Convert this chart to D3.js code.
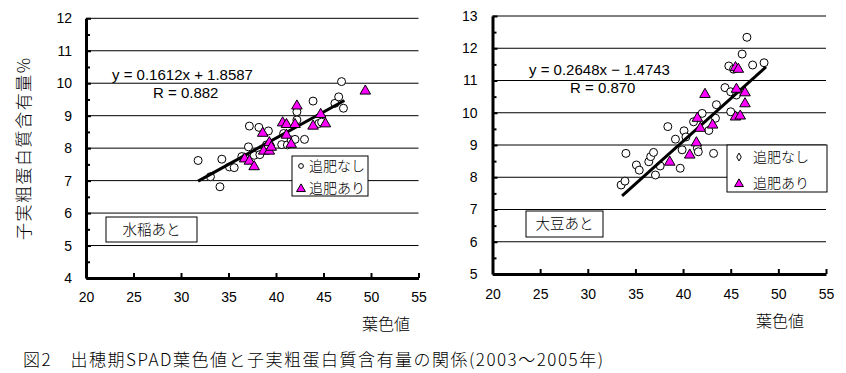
<!DOCTYPE html>
<html>
<head>
<meta charset="utf-8">
<script src="https://cdn.jsdelivr.net/npm/d3@7"></script>
<style>
  body { margin: 0; background: #fff; }
  text { font-family: "Liberation Sans", Arial, "Noto Sans CJK JP", sans-serif; fill: #000; }
  .jp { font-family: "Noto Sans CJK JP", sans-serif; font-weight: 300; }
</style>
</head>
<body>
<svg id="chart"></svg>
<script>
var width = 846, height = 373

// 水稲あと (left panel)
var riceNone = [[31.8,7.62],[33.1,7.12],[34.1,6.81],[34.3,7.66],[35.1,7.42],[35.6,7.40],[36.4,7.74],[36.8,7.70],
  [37.1,8.04],[37.2,8.68],[37.7,7.78],[38.2,8.64],[38.3,7.80],[39.2,8.53],[39.0,8.10],[40.6,8.11],[40.8,8.45],
  [41.2,8.10],[41.6,8.25],[42.0,8.27],[42.2,8.87],[42.2,9.12],[43.0,8.27],[43.9,9.45],[44.5,8.76],[44.8,8.80],
  [46.2,9.38],[46.6,9.58],[46.9,10.05],[47.1,9.23]]
var riceAdd = [[36.7,7.70],[37.2,7.63],[37.7,7.46],[38.6,8.49],[38.7,7.94],[39.3,7.94],[39.3,8.20],[39.5,8.06],
  [40.7,8.81],[41.1,8.76],[41.1,8.43],[41.6,8.15],[42.0,8.76],[42.2,9.33],[43.9,8.71],[44.7,9.07],[45.2,8.78],[49.4,9.79]]
var riceFit = { slope: 0.1612, icpt: 1.8587, r: "0.882", from: 31.8, to: 47.2 }

// 大豆あと (right panel)
var soyNone = [[33.5,7.76],[33.9,7.88],[34.0,8.74],[35.1,8.38],[35.4,8.22],[36.4,8.48],[36.6,8.64],[36.9,8.77],
  [37.1,8.07],[37.6,8.35],[38.4,9.57],[39.2,9.18],[39.7,8.28],[39.9,8.85],[40.1,9.44],[40.3,9.25],[41.1,9.72],
  [41.5,8.90],[41.6,8.79],[42.0,9.98],[42.7,9.45],[43.2,8.74],[43.4,9.83],[43.5,10.25],[44.4,10.78],[44.8,11.45],
  [45.0,10.65],[45.0,10.03],[45.3,11.35],[45.6,10.55],[46.2,11.82],[46.7,12.34],[47.3,11.48],[48.5,11.55]]
var soyAdd = [[38.6,8.50],[40.7,8.72],[41.4,9.10],[41.5,9.86],[41.8,9.55],[42.3,10.60],[43.1,9.65],[45.5,11.43],
  [45.8,11.38],[45.6,10.76],[46.5,10.65],[46.5,10.31],[45.5,9.90],[46.0,9.93]]
var soyFit = { slope: 0.2648, icpt: -1.4743, r: "0.870", from: 33.6, to: 48.7 }

var xTicks = [20, 25, 30, 35, 40, 45, 50, 55]
var seriesNames = ["追肥なし", "追肥あり"]
var xTitle = "葉色値"
var yTitle = "子実粗蛋白質含有量%"
var caption = "図2　出穂期SPAD葉色値と子実粗蛋白質含有量の関係(2003～2005年)"

var svg = d3.select("#chart").attr("width", width).attr("height", height)
svg.append("rect").attr("width", width).attr("height", height).attr("fill", "#fff")

function drawPanel(p) {
  var x = d3.scaleLinear().domain([20, 55]).range([p.left, p.right])
  var y = d3.scaleLinear().domain(p.yDomain).range([p.bottom, p.top])
  var g = svg.append("g")
  var yMajor = d3.range(p.yDomain[0], p.yDomain[1] + 1)
  var yMinor = d3.range(p.yDomain[0] + 0.5, p.yDomain[1], 1)

  // grid
  g.append("g").selectAll("line").data(yMajor.slice(1)).enter().append("line")
    .attr("x1", p.left).attr("x2", p.right)
    .attr("y1", function (d) { return y(d) }).attr("y2", function (d) { return y(d) })
    .attr("stroke", "#000").attr("stroke-width", 1)

  // y axis
  var ya = g.append("g").attr("transform", "translate(" + p.left + ",0)")
    .call(d3.axisLeft(y).tickValues(yMajor).tickSize(-5).tickSizeOuter(0).tickPadding(p.yPad).tickFormat(d3.format("d")))
  ya.append("g").call(d3.axisLeft(y).tickValues(yMinor).tickSize(-4).tickFormat(""))
    .select(".domain").remove()
  ya.selectAll(".domain").attr("stroke-width", 3)
  ya.selectAll(".tick line").attr("stroke-width", 2)
  ya.selectAll("text").attr("font-size", 14).attr("fill", "#000")

  // x axis
  var xa = g.append("g").attr("transform", "translate(0," + p.bottom + ")")
    .call(d3.axisBottom(x).tickValues(xTicks).tickSize(-5).tickSizeOuter(0).tickPadding(p.xPad))
  xa.selectAll(".domain").attr("stroke-width", 3)
  xa.selectAll(".tick line").attr("stroke-width", 2)
  xa.selectAll("text").attr("font-size", 14).attr("fill", "#000")

  // panel label box
  g.append("rect").attr("x", p.tag.x).attr("y", p.tag.y).attr("width", p.tag.w).attr("height", p.tag.h)
    .attr("fill", "#fff").attr("stroke", "#000")
  g.append("text").attr("class", "jp").attr("x", p.tag.x + p.tag.w / 2).attr("y", p.tag.y + p.tag.h / 2 + 5)
    .attr("text-anchor", "middle").attr("font-size", 14.5).text(p.name)

  // points
  g.append("g").selectAll("circle").data(p.none).enter().append("circle")
    .attr("cx", function (d) { return x(d[0]) }).attr("cy", function (d) { return y(d[1]) })
    .attr("r", 4).attr("fill", "#fff").attr("stroke", "#000").attr("stroke-width", 1)

  // trend line
  var fit = p.fit
  g.append("line")
    .attr("x1", x(fit.from)).attr("y1", y(fit.slope * fit.from + fit.icpt))
    .attr("x2", x(fit.to)).attr("y2", y(fit.slope * fit.to + fit.icpt))
    .attr("stroke", "#000").attr("stroke-width", 3)

  g.append("g").selectAll("path").data(p.add).enter().append("path")
    .attr("d", d3.symbol().type(d3.symbolTriangle).size(48))
    .attr("transform", function (d) { return "translate(" + x(d[0]) + "," + (y(d[1]) + 1) + ")" })
    .attr("fill", "#ff00ff").attr("stroke", "#000").attr("stroke-width", 1)

  // equation
  var sign = fit.icpt < 0 ? " − " : " + "
  g.append("text").attr("x", p.eq.x).attr("y", p.eq.y).attr("font-size", 15)
    .text("y = " + fit.slope.toFixed(4) + "x" + sign + Math.abs(fit.icpt).toFixed(4))
  g.append("text").attr("x", p.eq.x + 41).attr("y", p.eq.y + 18).attr("font-size", 15)
    .text("R = " + fit.r)

  // legend
  var L = p.legend
  g.append("rect").attr("x", L.x).attr("y", L.y).attr("width", L.w).attr("height", L.h)
    .attr("fill", "#fff").attr("stroke", "#000")
  var rows = g.selectAll(".lg").data(seriesNames).enter().append("g")
    .attr("transform", function (d, i) { return "translate(" + L.x + "," + (L.y + L.row0 + i * L.step) + ")" })
  rows.append("path")
    .attr("d", function (d, i) {
      return d3.symbol().type(i === 0 ? L.sym0 : d3.symbolTriangle).size(i === 0 ? 18 : 34)()
    })
    .attr("transform", function (d, i) { return "translate(" + L.mx + "," + (i === 0 ? 0 : 1) + ")" })
    .attr("fill", function (d, i) { return i === 0 ? "#fff" : "#ff00ff" })
    .attr("stroke", "#000").attr("stroke-width", 1)
  rows.append("text").attr("class", "jp").attr("x", L.tx).attr("y", 5).attr("font-size", 14)
    .text(function (d) { return d })

  // x title
  g.append("text").attr("class", "jp").attr("x", p.xt.x).attr("y", p.xt.y)
    .attr("text-anchor", "middle").attr("font-size", 16).text(xTitle)
}

drawPanel({
  name: "水稲あと", none: riceNone, add: riceAdd, fit: riceFit,
  left: 86, right: 418.5, top: 18.3, bottom: 278, yDomain: [4, 12], yPad: 14, xPad: 14,
  tag: { x: 106, y: 217, w: 91, h: 25 },
  eq: { x: 112, y: 80 },
  legend: { x: 292, y: 156, w: 76, h: 40, row0: 10, step: 22, mx: 9, tx: 17, sym0: d3.symbolCircle },
  xt: { x: 386, y: 330 }
})

drawPanel({
  name: "大豆あと", none: soyNone, add: soyAdd, fit: soyFit,
  left: 492.5, right: 826, top: 16, bottom: 274, yDomain: [5, 13], yPad: 15, xPad: 15,
  tag: { x: 526, y: 211, w: 77, h: 26 },
  eq: { x: 529, y: 75 },
  legend: { x: 727, y: 145, w: 100, h: 47, row0: 12, step: 26, mx: 12, tx: 26, sym0: d3.symbolDiamond },
  xt: { x: 780, y: 327 }
})

// y title (left panel only)
svg.append("text").attr("class", "jp")
  .attr("transform", "translate(30,149) rotate(-90)")
  .attr("text-anchor", "middle").attr("font-size", 17).attr("textLength", 182).text(yTitle)

// caption
svg.append("text").attr("class", "jp").attr("x", 23).attr("y", 366)
  .attr("font-size", 17).attr("textLength", 580).attr("lengthAdjust", "spacing").text(caption)
</script>
</body>
</html>
